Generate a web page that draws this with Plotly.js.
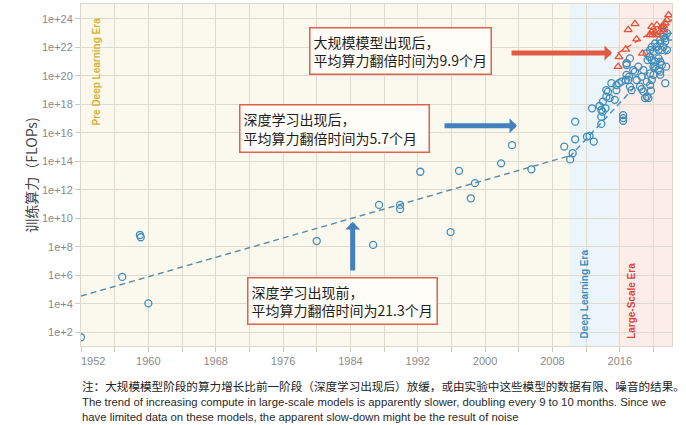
<!DOCTYPE html>
<html>
<head>
<meta charset="utf-8">
<script src="https://cdn.plot.ly/plotly-3.0.1.min.js"></script>
<style>
  html, body { margin: 0; padding: 0; background: #ffffff; }
  #chart { width: 686px; height: 425px; }
</style>
</head>
<body>
<div id="chart"></div>
<script>
// Training compute of notable ML systems (FLOPs), by publication year.

// Pre Deep Learning Era systems
const preYears = [1952.0, 1956.9, 1959.0, 1959.1, 1960.0, 1980.0, 1986.7, 1987.4, 1989.9, 1989.9,
                  1992.3, 1995.9, 1996.9, 1998.3, 1998.8, 2001.9, 2003.2, 2005.5];
const preFlops = [4.6e1, 7.9e5, 6.9e8, 4.8e8, 1.1e4, 2.6e8, 1.4e8, 8.9e10, 8.9e10, 4.5e10,
                  1.9e13, 1.1e9, 2.2e13, 2.6e11, 3.0e12, 7.4e13, 1.4e15, 2.8e13];

// Deep Learning Era systems
const dlYears = [2009.4, 2010.1, 2010.4, 2010.7, 2010.7, 2012.1, 2012.4, 2012.9, 2012.7, 2013.8,
                 2013.8, 2013.8, 2014.0, 2014.4, 2014.4, 2014.3, 2014.6, 2015.0, 2015.4, 2015.6,
                 2015.9, 2013.6, 2013.95, 2014.8, 2015.6];
const dlFlops = [1.1e15, 1.4e14, 3.8e14, 6.2e16, 3.6e15, 5.5e15, 6.2e15, 2.5e15, 5.4e17, 4.1e17,
                 1.4e17, 4.3e16, 1.6e18, 3.5e18, 1.0e19, 5.4e17, 7.9e18, 3.1e19, 2.1e18, 1.0e19,
                 3.1e19, 7.8e17, 3.1e17, 2.8e18, 2.3e19];

// Large-Scale Era, regular-scale systems
const regYears = [2016.2, 2016.4, 2016.4, 2016.4, 2016.7, 2016.8, 2017.1, 2016.8, 2017.4, 2017.6,
                  2018.0, 2018.2, 2018.6, 2018.8, 2018.6, 2019.2, 2019.0, 2019.4, 2019.7, 2019.6,
                  2019.8, 2020.0, 2020.2, 2019.8, 2019.5, 2020.0, 2019.2, 2020.6, 2020.8, 2021.4,
                  2020.4, 2020.8, 2021.2, 2021.4, 2021.6, 2021.0, 2020.6, 2021.2, 2020.2, 2019.8,
                  2020.8, 2021.0, 2017.2, 2016.8, 2017.8, 2017.0, 2018.4, 2017.2, 2019.3, 2020.2,
                  2020.0, 2021.5, 2020.8, 2019.6, 2019.2, 2018.8, 2021.4, 2022.0, 2021.6, 2020.8,
                  2019.6, 2019.6, 2021.2, 2020.6];
const regFlops = [4.0e19, 1.8e17, 1.1e17, 7.2e16, 5.2e19, 1.2e20, 8.9e19, 5.9e20, 1.0e19, 2.6e20,
                  5.2e19, 4.5e20, 8.9e19, 2.6e20, 1.2e19, 3.5e18, 2.8e18, 2.8e18, 9.3e18, 2.3e19,
                  5.2e19, 1.2e20, 4.5e20, 1.3e21, 2.2e21, 5.1e21, 3.9e21, 2.6e20, 1.2e20, 3.1e19,
                  1.1e22, 1.9e22, 5.8e22, 2.6e22, 6.6e21, 6.6e21, 1.7e21, 1.0e23, 1.9e22, 1.1e22,
                  1.0e21, 5.9e20, 1.7e21, 7.8e20, 2.0e20, 5.2e19, 1.8e19, 1.8e19, 1.3e21, 1.0e21,
                  4.5e20, 4.5e20, 2.0e20, 1.5e20, 4.0e19, 7.9e18, 4.5e22, 5.8e22, 1.0e23, 3.4e22,
                  6.6e21, 2.2e21, 1.1e22, 6.6e21];

// Large-Scale Era, large-scale systems
const largeYears = [2017.0, 2017.8, 2015.8, 2015.9, 2016.7, 2018.0, 2018.7, 2019.8, 2020.4, 2020.2,
                    2019.6, 2020.8, 2021.0, 2021.4, 2021.8, 2021.6, 2021.2, 2019.8, 2019.9, 2020.4,
                    2021.2];
const largeFlops = [1.7e23, 4.5e23, 4.5e20, 2.2e21, 7.4e21, 3.8e22, 3.9e21, 2.9e23, 3.8e23, 1.0e23,
                    7.6e22, 1.3e23, 2.9e23, 5.0e23, 1.9e24, 8.5e23, 1.7e23, 1.3e23, 7.6e22, 7.6e22,
                    3.2e23];

// Trend fits: start point and doubling time (months) for each era
const trendNames = ['Pre Deep Learning', 'Deep Learning', 'Large-Scale'];
const trendStartYear = [1952, 2010, 2015.75];
const trendEndYear = [2010, 2022.2, 2022.2];
const trendStartFlops = [3.6e4, 2.0e14, 4.0e21];
const doublingMonths = [21.3, 5.7, 9.9];

// Era boundaries
const eraStart = [1952, 2010, 2015.75];
const eraEnd = [2010, 2015.75, 2022.2];

// Axis ticks
const xTickVals = [1952, 1956, 1960, 1964, 1968, 1972, 1976, 1980, 1984, 1988, 1992, 1996,
                   2000, 2004, 2008, 2012, 2016, 2020];
const xTickText = ['\u2007\u2007\u2007\u20071952', '', '1960', '', '1968', '', '1976', '', '1984', '',
                   '1992', '', '2000', '', '2008', '', '2016', ''];
const yTickVals = [1e2, 1e4, 1e6, 1e8, 1e10, 1e12, 1e14, 1e16, 1e18, 1e20, 1e22, 1e24];
const yTickText = ['1e+2', '1e+4', '1e+6', '1e+8', '1e+10', '1e+12', '1e+14', '1e+16', '1e+18',
                   '1e+20', '1e+22', '1e+24'];

const BLUE = '#3f8dba';
const RED = '#e2533d';
const trendColors = ['#5a8aa6', '#4a8dbd', '#e2533d'];

const traces = [];

// dashed trend lines, each drawn from its doubling time
for (let i = 0; i < trendNames.length; i++) {
  const span = trendEndYear[i] - trendStartYear[i];
  const endFlops = trendStartFlops[i] * Math.pow(2, span * 12 / doublingMonths[i]);
  traces.push({
    type: 'scatter', mode: 'lines', name: trendNames[i] + ' trend',
    x: [trendStartYear[i], trendEndYear[i]],
    y: [trendStartFlops[i], endFlops],
    line: { color: trendColors[i], width: 1.4, dash: '6px,4px' },
    hoverinfo: 'skip'
  });
}

const circle = { symbol: 'circle-open', size: 7, color: BLUE, line: { width: 1.3, color: BLUE } };
traces.push({ type: 'scatter', mode: 'markers', name: 'Pre DL', x: preYears, y: preFlops, marker: circle });
traces.push({ type: 'scatter', mode: 'markers', name: 'DL', x: dlYears, y: dlFlops, marker: circle });
traces.push({ type: 'scatter', mode: 'markers', name: 'Regular', x: regYears, y: regFlops, marker: circle });
traces.push({
  type: 'scatter', mode: 'markers', name: 'Large', x: largeYears, y: largeFlops,
  marker: { symbol: 'triangle-up-open', size: 7, color: RED, line: { width: 1.3, color: RED } }
});

const eraFill = ['rgba(0,0,0,0)', '#ecf5f9', '#fcede9'];
const shapes = eraStart.map((s, i) => ({
  type: 'rect', xref: 'x', yref: 'paper', x0: s, x1: eraEnd[i], y0: 0, y1: 1,
  fillcolor: eraFill[i], line: { width: 0 }, layer: 'below'
}));

const cjk = '"Noto Sans CJK SC", "Noto Sans", sans-serif';
const latin = '"Liberation Sans", Arial, sans-serif';
const boxFont = { family: cjk, size: 14, color: '#1e1e1e' };

function box(text, x, y, w, h) {
  return {
    xref: 'paper', yref: 'paper', x: x, y: y, xanchor: 'center', yanchor: 'middle',
    text: text, showarrow: false, align: 'left', valign: 'middle', width: w, height: h,
    font: boxFont, bgcolor: '#fffdf8', bordercolor: '#e2614c', borderwidth: 1.5, borderpad: 3
  };
}

function arrow(x, y, ax, ay, color) {
  return {
    xref: 'paper', yref: 'paper', x: x, y: y, ax: ax, ay: ay, text: '', showarrow: true,
    arrowhead: 1, arrowsize: 0.5, arrowwidth: 5, arrowcolor: color, standoff: 0, startstandoff: 0
  };
}

function eraLabel(text, x, y, color) {
  return {
    xref: 'x', yref: 'paper', x: x, y: y, xanchor: 'center', yanchor: 'middle',
    text: text, textangle: -90, showarrow: false,
    font: { family: latin, size: 10, color: color, weight: 'bold' }
  };
}

function note(text, y, font) {
  return {
    xref: 'paper', yref: 'paper', x: -0.002, y: y, xanchor: 'left', yanchor: 'middle',
    text: text, showarrow: false, align: 'left', font: font
  };
}

const noteEn = { family: latin, size: 11.3, color: '#2a2a2a' };

const annotations = [
  eraLabel('Pre Deep Learning Era', 1953.8, 0.803, '#d6b238'),
  eraLabel('Deep Learning Era', 2011.75, 0.151, '#3a8fc0'),
  eraLabel('Large-Scale Era', 2017.45, 0.132, '#d9473a'),
  box('大规模模型出现后，<br>平均算力翻倍时间为9.9个月', 0.5398, 0.864, 174, 39),
  box('深度学习出现后，<br>平均算力翻倍时间为5.7个月', 0.4281, 0.6374, 182, 40),
  box('深度学习出现前，<br>平均算力翻倍时间为21.3个月', 0.4433, 0.133, 182, 39),
  arrow(0.8985, 0.8567, -102, 0, '#e05a44'),
  arrow(0.7377, 0.6442, -74, 0, '#4281bd'),
  arrow(0.4597, 0.3626, 0, 50, '#4281bd'),
  note('注：大规模模型阶段的算力增长比前一阶段（深度学习出现后）放缓，或由实验中这些模型的数据有限、噪音的结果。',
       -0.117, { family: cjk, size: 11.6, color: '#222' }),
  note('The trend of increasing compute in large-scale models is apparently slower, doubling every 9 to 10 months. Since we',
       -0.164, noteEn),
  note('have limited data on these models, the apparent slow-down might be the result of noise',
       -0.208, noteEn)
];

const layout = {
  width: 686, height: 425,
  margin: { l: 81, r: 14, t: 4, b: 79 },
  paper_bgcolor: '#ffffff',
  plot_bgcolor: '#fbf8ee',
  showlegend: false,
  font: { family: latin, size: 11, color: '#888' },
  xaxis: {
    range: [1952, 2022.2], tickmode: 'array', tickvals: xTickVals, ticktext: xTickText,
    ticks: 'outside', ticklen: 5, tickcolor: '#cfcac0', tickfont: { family: latin, size: 11, color: '#8a8a8a' },
    showgrid: true, gridcolor: '#e0dbd0', gridwidth: 1, zeroline: false,
    showline: true, linecolor: '#dcd7cc', linewidth: 1, mirror: true
  },
  yaxis: {
    type: 'log', range: [1.05, 25.05], tickmode: 'array', tickvals: yTickVals, ticktext: yTickText,
    ticks: 'outside', ticklen: 5, tickcolor: '#cfcac0', tickfont: { family: latin, size: 11, color: '#8a8a8a' },
    showgrid: true, gridcolor: '#e0dbd0', gridwidth: 1, zeroline: false,
    showline: true, linecolor: '#dcd7cc', linewidth: 1, mirror: true,
    automargin: true,
    title: { text: '训练算力（FLOPs)', font: { family: cjk, size: 14, color: '#444' }, standoff: 0 }
  },
  shapes: shapes,
  annotations: annotations
};

Plotly.newPlot('chart', traces, layout, { displayModeBar: false, staticPlot: true });
</script>
</body>
</html>
